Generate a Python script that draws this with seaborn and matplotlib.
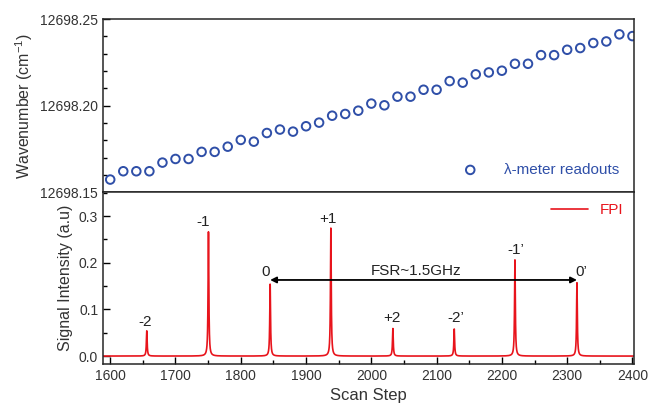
import numpy as np
import pandas as pd
import matplotlib
matplotlib.use("Agg")
import matplotlib.pyplot as plt
from matplotlib.ticker import MultipleLocator, FormatStrFormatter
import seaborn as sns

### wavemeter readouts (top panel)
scan_steps = np.arange(1600, 2401, 20)
wavenumber = [12698.1573, 12698.1621, 12698.1621, 12698.1621, 12698.1671, 12698.1692,
              12698.1692, 12698.1733, 12698.1733, 12698.1763, 12698.1802, 12698.1792,
              12698.1842, 12698.1862, 12698.1850, 12698.1881, 12698.1902, 12698.1942,
              12698.1952, 12698.1971, 12698.2012, 12698.2002, 12698.2052, 12698.2052,
              12698.2092, 12698.2092, 12698.2142, 12698.2133, 12698.2181, 12698.2192,
              12698.2202, 12698.2242, 12698.2242, 12698.2292, 12698.2292, 12698.2323,
              12698.2333, 12698.2362, 12698.2371, 12698.2412, 12698.2402]

### FPI transmission peaks (bottom panel)
peak_pos = [1656, 1750.5, 1845, 1938, 2033, 2127, 2220, 2315]
peak_height = [0.054, 0.266, 0.154, 0.274, 0.059, 0.058, 0.206, 0.157]
peak_labels = ["-2", "-1", "0", "+1", "+2", "-2\u2019", "-1\u2019", "0\u2019"]
label_x = [1653, 1743, 1838, 1933, 2032, 2130, 2221, 2322]
label_y = [0.074, 0.288, 0.181, 0.293, 0.081, 0.081, 0.227, 0.181]
peak_width = 0.7

scan_fine = np.arange(1588, 2406, 0.1)
fpi = np.zeros_like(scan_fine)
for p, h in zip(peak_pos, peak_height):
    fpi += h * peak_width**2 / ((scan_fine - p)**2 + peak_width**2)

top_df = pd.DataFrame({"step": scan_steps, "wn": wavenumber})
fpi_df = pd.DataFrame({"step": scan_fine, "signal": fpi})

blue = "#2f4fa8"
red = "#e8141c"

sns.set_style("ticks")
plt.rcParams["font.family"] = ["Liberation Sans", "DejaVu Sans"]
plt.rcParams["mathtext.fontset"] = "custom"
plt.rcParams["mathtext.rm"] = "Liberation Sans"

fig = plt.figure(figsize=(6.48, 4.16), dpi=100)
ax1 = fig.add_axes([0.159, 0.538, 0.82, 0.416])
ax2 = fig.add_axes([0.159, 0.125, 0.82, 0.413], sharex=ax1)

### top panel
sns.scatterplot(data=top_df, x="step", y="wn", ax=ax1, marker="o", s=38,
                facecolors="none", edgecolor=blue, linewidth=1.4,
                label="\u03bb-meter readouts", clip_on=True)
ax1.set_ylim(12698.15, 12698.25)
ax1.yaxis.set_major_locator(MultipleLocator(0.05))
ax1.yaxis.set_minor_locator(MultipleLocator(0.01))
ax1.yaxis.set_major_formatter(FormatStrFormatter("%.2f"))
ax1.set_ylabel("Wavenumber (cm$^{-1}$)", fontsize=11.5, color="#333333")
ax1.set_xlabel("")
ax1.tick_params(axis="x", which="both", bottom=False, labelbottom=False)
leg1 = ax1.legend(loc="lower right", frameon=False, fontsize=11, handletextpad=1.2,
                  borderaxespad=0.6)
for t in leg1.get_texts():
    t.set_color(blue)

### bottom panel
sns.lineplot(data=fpi_df, x="step", y="signal", ax=ax2, color=red, linewidth=1.2,
             label="FPI")
ax2.set_xlim(1589, 2403)
ax2.set_ylim(-0.017, 0.351)
ax2.xaxis.set_major_locator(MultipleLocator(100))
ax2.xaxis.set_minor_locator(MultipleLocator(50))
ax2.yaxis.set_major_locator(MultipleLocator(0.1))
ax2.yaxis.set_minor_locator(MultipleLocator(0.05))
ax2.yaxis.set_major_formatter(FormatStrFormatter("%.1f"))
ax2.set_xlabel("Scan Step", fontsize=12, color="#333333")
ax2.set_ylabel("Signal Intensity (a.u)", fontsize=11.5, color="#333333")
leg2 = ax2.legend(loc="upper right", frameon=False, fontsize=11, handlelength=2.4,
                  borderaxespad=0.3)
for t in leg2.get_texts():
    t.set_color(red)

for lab, lx, ly in zip(peak_labels, label_x, label_y):
    ax2.text(lx, ly, lab, ha="center", va="center", fontsize=11, color="#222222")

ax2.annotate("", xy=(peak_pos[7], 0.163), xytext=(peak_pos[2], 0.163),
             arrowprops=dict(arrowstyle="<|-|>", color="black", lw=1.3,
                             mutation_scale=9, shrinkA=0, shrinkB=0))
ax2.text(2068, 0.182, "FSR~1.5GHz", ha="center", va="center", fontsize=11, color="#222222")

for ax in (ax1, ax2):
    ax.tick_params(which="both", direction="in", colors="black", labelcolor="#333333",
                   labelsize=10, top=False, right=False)
    ax.tick_params(which="major", length=5, width=1)
    ax.tick_params(which="minor", length=3, width=1)
    for s in ax.spines.values():
        s.set_visible(True)
        s.set_linewidth(1.1)

fig.align_ylabels([ax1, ax2])
fig.savefig("out.png", dpi=100)
